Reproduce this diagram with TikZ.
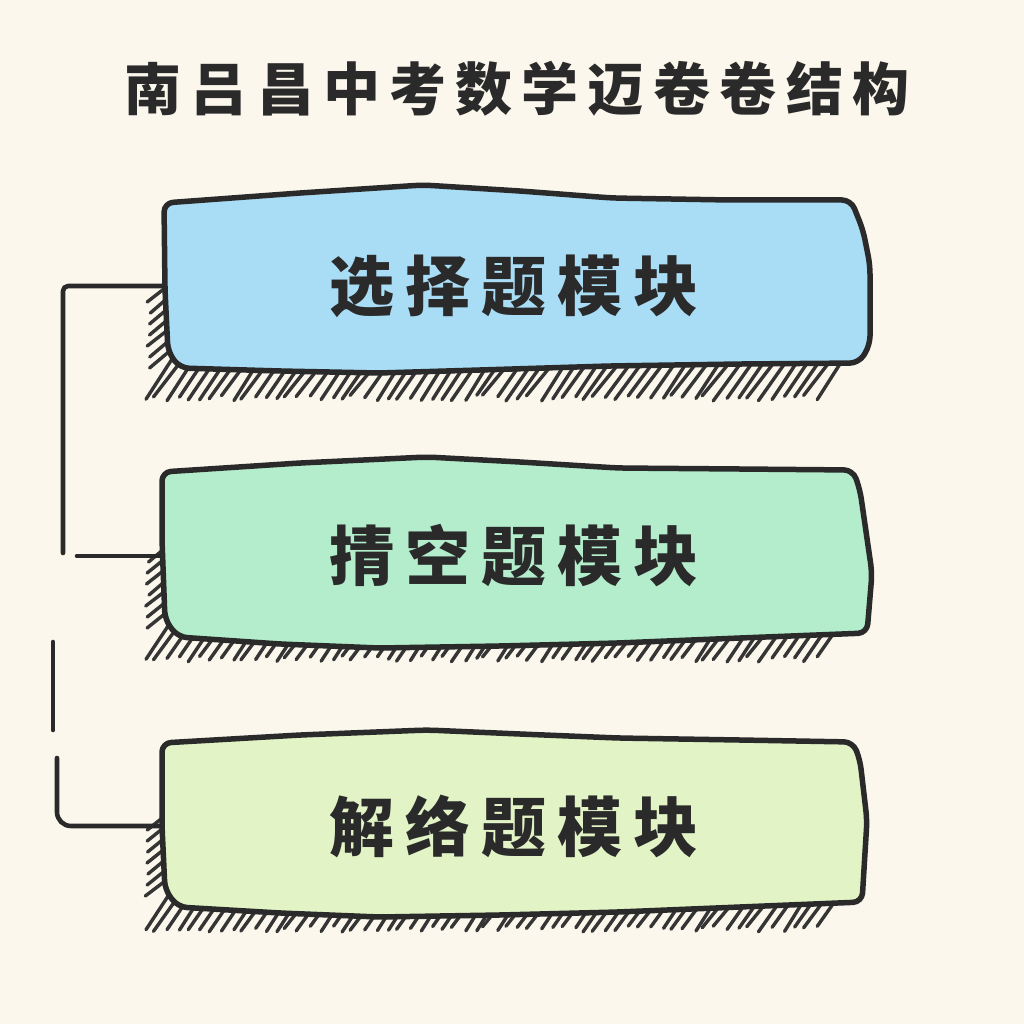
\documentclass[tikz,border=0pt]{standalone}
\usepackage{fontspec}
\newfontfamily\headfont[LetterSpace=16]{Noto Sans CJK SC}
\newfontfamily\modfont[LetterSpace=17]{Noto Sans CJK SC}

\definecolor{paper}{HTML}{FBF7EC}
\definecolor{ink}{HTML}{2A2A2A}
\definecolor{choicefill}{HTML}{A9DCF5}
\definecolor{blankfill}{HTML}{B3EDCB}
\definecolor{answerfill}{HTML}{E2F4C6}

\begin{document}
\begin{tikzpicture}[
    x=1pt, y=-1pt,
    heading/.style={font=\headfont\bfseries\fontsize{57pt}{57pt}\selectfont, text=ink},
    module/.style={minimum width=704pt, minimum height=170pt, inner sep=0pt,
                   font=\modfont\bfseries\fontsize{65pt}{65pt}\selectfont, text=ink},
    outline/.style={draw=ink, line width=5.5pt, line join=round, rounded corners=9pt},
    hatch/.style={draw=ink!95, line width=3.4pt, line cap=round},
    link/.style={draw=ink, line width=4.6pt, line cap=round, line join=round, rounded corners=5pt},
]

% Paper background
\fill[paper] (0,0) rectangle (1024,1024);
\useasboundingbox (0,0) rectangle (1024,1024);

\pgfmathsetseed{11}

% Hatched shadows (the boxes cover their upper ends)
\foreach \x in {158,169,...,830} {
    \pgfmathsetmacro\dx{3*rand}
    \draw[hatch] (\x-14+\dx,398+3*rand) -- (\x+16,356);
    \draw[hatch] (\x-14+\dx,659+3*rand) -- (\x+16,617);
    \draw[hatch] (\x-14+\dx,929+3*rand) -- (\x+16,887);
}
\foreach \y in {290,301,...,362} {
    \draw[hatch] (149+2*rand,\y+12) -- (178,\y-12);
    \draw[hatch] (147+2*rand,\y+272) -- (177,\y+248);
    \draw[hatch] (147+2*rand,\y+540) -- (177,\y+516);
}

% Module boxes (hand drawn outlines)
\draw[outline, fill=choicefill] (164,203) -- (300,193) -- (423,185) -- (520,191) -- (612,198)
    -- (730,200) -- (851,200) -- (863,230) -- (870,265) -- (870,345) -- (859,363)
    -- (740,364) -- (609,366) -- (480,370) -- (379,373) -- (280,371) -- (180,368)
    -- (168,352) -- (165,290) -- cycle;
\draw[outline, fill=blankfill] (162,472) -- (300,463) -- (427,457) -- (520,462) -- (618,468)
    -- (740,469) -- (853,470) -- (860,490) -- (872,573) -- (867,633) -- (740,638)
    -- (618,643) -- (500,646) -- (379,648) -- (280,644) -- (178,637) -- (165,620)
    -- (162,540) -- cycle;
\draw[outline, fill=answerfill] (162,743) -- (300,735) -- (427,730) -- (520,734) -- (618,738)
    -- (740,740) -- (853,742) -- (860,760) -- (867,820) -- (862,902) -- (740,907)
    -- (618,912) -- (500,915) -- (379,917) -- (280,913) -- (178,907) -- (165,890)
    -- (162,826) -- cycle;

% Title and module labels
\node[heading] (head) at (517,89) {南吕昌中考数学迈卷卷结构};
\node[module] (choice) at (514,286) {选择题模块};
\node[module] (blank) at (514,556) {掅空题模块};
\node[module] (answer) at (514,826) {解络题模块};

% Bracket connectors
\coordinate (c1end) at (63,553);
\coordinate (c2start) at (77,556);
\coordinate (c3top) at (53,642);
\coordinate (c3bot) at (53,730);
\coordinate (c4start) at (57,758);

\draw[link] (choice.west) -| (c1end);
\draw[link] (c2start) -- (blank.west);
\draw[link] (c3top) -- (c3bot);
\draw[link, rounded corners=14pt] (c4start) |- (answer.west);

\end{tikzpicture}
\end{document}
